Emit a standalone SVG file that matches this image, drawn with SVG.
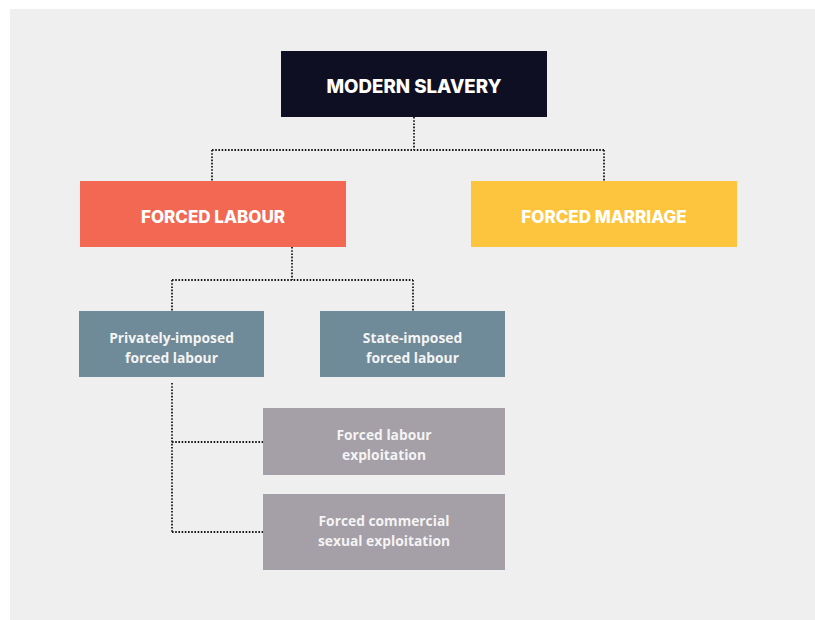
<svg xmlns="http://www.w3.org/2000/svg" width="815" height="620" viewBox="0 0 815 620">
<style>
.h{font-family:Inter,"Open Sans","Liberation Sans",sans-serif;font-weight:800;fill:#fff;text-anchor:middle}
.s{font-family:"Open Sans","Noto Sans","Liberation Sans",sans-serif;font-weight:700;font-size:13.8px;fill:#f4f4f4;text-anchor:middle}
.c{fill:none;stroke:#1a1a1a;stroke-width:1.8;stroke-dasharray:1.6 1.6}
</style>
<rect x="0" y="0" width="815" height="620" fill="#ffffff"/>
<rect x="10" y="9" width="805" height="611" fill="#efefef"/>
<g id="connectors">
<path class="c" d="M414 117 V150 M212 150 H604 M212 150 V181 M604 150 V181"/>
<path class="c" d="M292 247 V280 M172 280 H413 M172 280 V311 M413 280 V311"/>
<path class="c" d="M172 383 V532 M172 442 H263 M172 532 H263"/>
</g>
<g id="modern-slavery">
<rect x="281" y="51" width="266" height="66" fill="#0f0f24"/>
<text class="h" x="414" y="93" font-size="18.7">MODERN SLAVERY</text>
</g>
<g id="forced-labour">
<rect x="80" y="181" width="266" height="66" fill="#f26852"/>
<text class="h" x="213" y="223" font-size="17">FORCED LABOUR</text>
</g>
<g id="forced-marriage">
<rect x="471" y="181" width="266" height="66" fill="#fdc53e"/>
<text class="h" x="604" y="223" font-size="17">FORCED MARRIAGE</text>
</g>
<g id="privately-imposed">
<rect x="79" y="311" width="185" height="66" fill="#6f8a99"/>
<text class="s" x="171.5" y="343">Privately-imposed</text>
<text class="s" x="171.5" y="363">forced labour</text>
</g>
<g id="state-imposed">
<rect x="320" y="311" width="185" height="66" fill="#6f8a99"/>
<text class="s" x="412.5" y="343">State-imposed</text>
<text class="s" x="412.5" y="363">forced labour</text>
</g>
<g id="forced-labour-exploitation">
<rect x="263" y="408" width="242" height="67" fill="#a59fa7"/>
<text class="s" x="384" y="440">Forced labour</text>
<text class="s" x="384" y="460">exploitation</text>
</g>
<g id="forced-commercial-sexual-exploitation">
<rect x="263" y="494" width="242" height="76" fill="#a59fa7"/>
<text class="s" x="384" y="526">Forced commercial</text>
<text class="s" x="384" y="546">sexual exploitation</text>
</g>
</svg>
